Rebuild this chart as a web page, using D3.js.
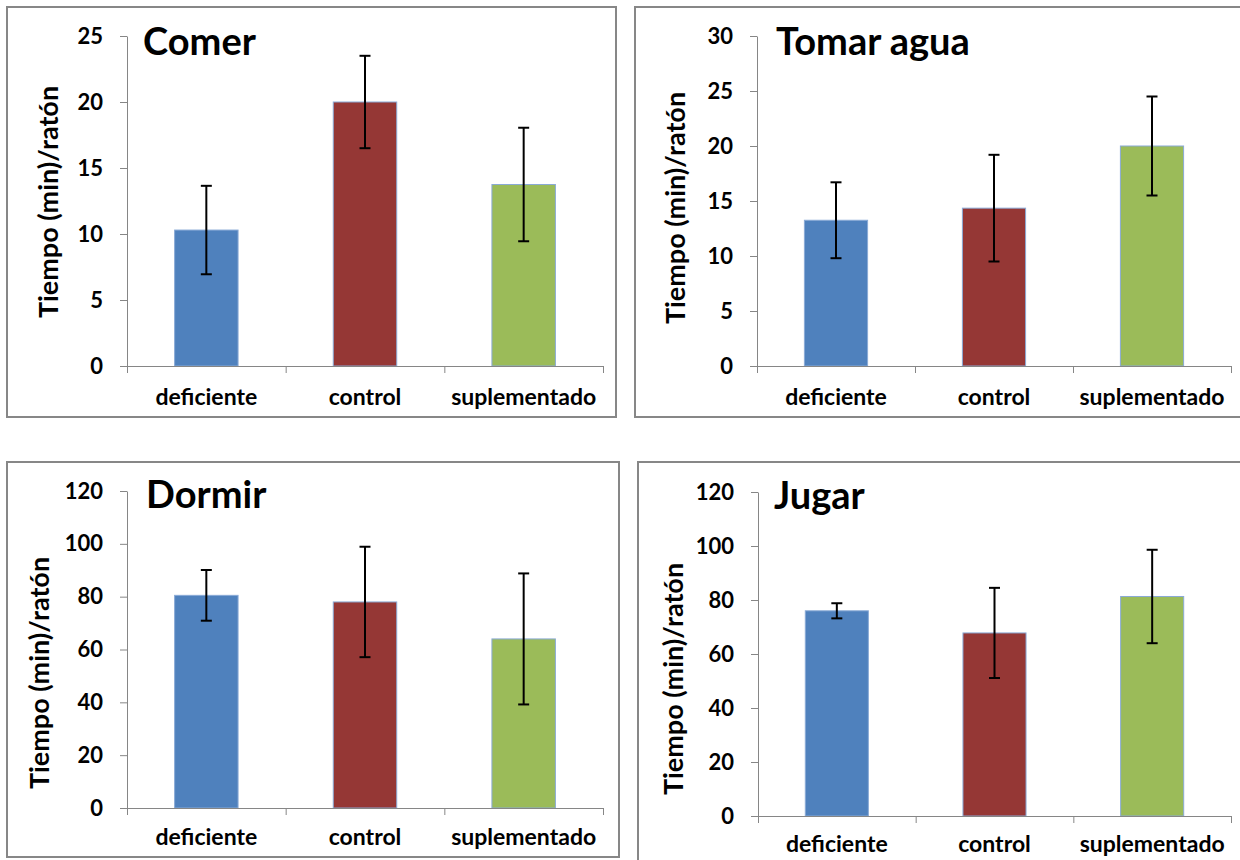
<!DOCTYPE html>
<html lang="es">
  <head>
    <meta charset="UTF-8" />
    <script src="https://cdn.jsdelivr.net/npm/d3@7"></script>
    <style>
      body { margin: 0; background: #fff; }
      svg text { font-family: Lato, "Open Sans", sans-serif; font-weight: 700; fill: #000; }
    </style>
  </head>
  <body>
    <div id="fig"></div>
    <script>
      const width = 1240, height = 860;

      const categories = ["deficiente", "control", "suplementado"];
      const barColors = ["#4f81bd", "#953735", "#9bbb59"];
      const titles = ["Comer", "Tomar agua", "Dormir", "Jugar"];
      const yLabel = "Tiempo (min)/ratón";

      // means and error (+/-) per group
      const comerMeans = [10.3, 20.0, 13.75];
      const comerErrors = [3.35, 3.5, 4.3];
      const aguaMeans = [13.25, 14.35, 20.0];
      const aguaErrors = [3.45, 4.85, 4.5];
      const dormirMeans = [80.5, 78.0, 64.0];
      const dormirErrors = [9.6, 20.9, 24.8];
      const jugarMeans = [76.0, 67.8, 81.3];
      const jugarErrors = [2.8, 16.7, 17.3];

      const yMaxima = [25, 30, 120, 120];
      const yTickSteps = [5, 5, 20, 20];

      const series = [
        [comerMeans, comerErrors],
        [aguaMeans, aguaErrors],
        [dormirMeans, dormirErrors],
        [jugarMeans, jugarErrors],
      ];

      // panel geometry
      const layout = [
        { frame: [7, 7, 609, 410], plot: { l: 127, r: 603, t: 36, b: 366 }, title: [143, 55], ylab: [58, 202], catY: 405 },
        { frame: [635, 7, 612, 410], plot: { l: 757, r: 1231, t: 36, b: 366 }, title: [776, 55], ylab: [685, 208], catY: 405 },
        { frame: [7, 462, 612, 395], plot: { l: 127, r: 603, t: 491, b: 808 }, title: [146, 508], ylab: [49, 673], catY: 845 },
        { frame: [638, 462, 612, 410], plot: { l: 758, r: 1231, t: 492, b: 816 }, title: [774, 509], ylab: [683, 679], catY: 852 },
      ];

      const svg = d3
        .select("#fig")
        .append("svg")
        .attr("width", width)
        .attr("height", height);

      layout.forEach((lay, i) => {
        const [means, errors] = series[i];
        const p = lay.plot;
        const g = svg.append("g");

        g.append("rect")
          .attr("x", lay.frame[0])
          .attr("y", lay.frame[1])
          .attr("width", lay.frame[2])
          .attr("height", lay.frame[3])
          .attr("fill", "#fff")
          .attr("stroke", "#878787")
          .attr("stroke-width", 2);

        const x = d3
          .scaleBand()
          .domain(categories)
          .range([p.l, p.r])
          .paddingInner(0.6)
          .paddingOuter(0.3);

        const y = d3
          .scaleLinear()
          .domain([0, yMaxima[i]])
          .range([p.b, p.t]);

        const data = categories.map((c, k) => ({ cat: c, mean: means[k], err: errors[k], color: barColors[k] }));

        // bars
        g.selectAll("rect.bar")
          .data(data)
          .join("rect")
          .attr("class", "bar")
          .attr("x", (d) => x(d.cat))
          .attr("width", x.bandwidth())
          .attr("y", (d) => y(d.mean))
          .attr("height", (d) => y(0) - y(d.mean))
          .attr("fill", (d) => d.color)
          .attr("stroke", "#8aaad6")
          .attr("stroke-width", 1);

        // y axis
        const yAxis = g
          .append("g")
          .attr("transform", `translate(${p.l},0)`)
          .call(
            d3
              .axisLeft(y)
              .tickValues(d3.range(0, yMaxima[i] + 1, yTickSteps[i]))
              .tickSize(7)
              .tickSizeOuter(0)
              .tickPadding(17)
          );
        yAxis.select(".domain").attr("stroke", "#868686");
        yAxis.selectAll(".tick line").attr("stroke", "#868686");
        yAxis.selectAll(".tick text").style("font-size", "22px").attr("fill", "#000");

        // x axis: ticks at category boundaries
        const bounds = d3.scaleLinear().domain([0, categories.length]).range([p.l, p.r]);
        const xAxis = g
          .append("g")
          .attr("transform", `translate(0,${p.b})`)
          .call(
            d3
              .axisBottom(bounds)
              .tickValues(d3.range(0, categories.length + 1))
              .tickSize(7)
              .tickSizeOuter(0)
              .tickFormat("")
          );
        xAxis.select(".domain").attr("stroke", "#868686");
        xAxis.selectAll(".tick line").attr("stroke", "#868686");

        g.selectAll("text.cat")
          .data(categories)
          .join("text")
          .attr("class", "cat")
          .attr("x", (d) => x(d) + x.bandwidth() / 2)
          .attr("y", lay.catY)
          .attr("text-anchor", "middle")
          .style("font-size", "23px")
          .text((d) => d);

        // error bars
        const eb = g.selectAll("g.err").data(data).join("g").attr("class", "err")
          .attr("stroke", "#000").attr("stroke-width", 2);
        const cx = (d) => x(d.cat) + x.bandwidth() / 2;
        eb.append("line")
          .attr("x1", cx).attr("x2", cx)
          .attr("y1", (d) => y(d.mean + d.err))
          .attr("y2", (d) => y(d.mean - d.err));
        eb.append("line")
          .attr("x1", (d) => cx(d) - 5.5).attr("x2", (d) => cx(d) + 5.5)
          .attr("y1", (d) => y(d.mean + d.err)).attr("y2", (d) => y(d.mean + d.err));
        eb.append("line")
          .attr("x1", (d) => cx(d) - 5.5).attr("x2", (d) => cx(d) + 5.5)
          .attr("y1", (d) => y(d.mean - d.err)).attr("y2", (d) => y(d.mean - d.err));

        // title
        g.append("text")
          .attr("x", lay.title[0])
          .attr("y", lay.title[1])
          .style("font-size", "38px")
          .text(titles[i]);

        // y label
        g.append("text")
          .attr("transform", `translate(${lay.ylab[0]},${lay.ylab[1]}) rotate(-90)`)
          .attr("text-anchor", "middle")
          .style("font-size", "27px")
          .text(yLabel);
      });
    </script>
  </body>
</html>
